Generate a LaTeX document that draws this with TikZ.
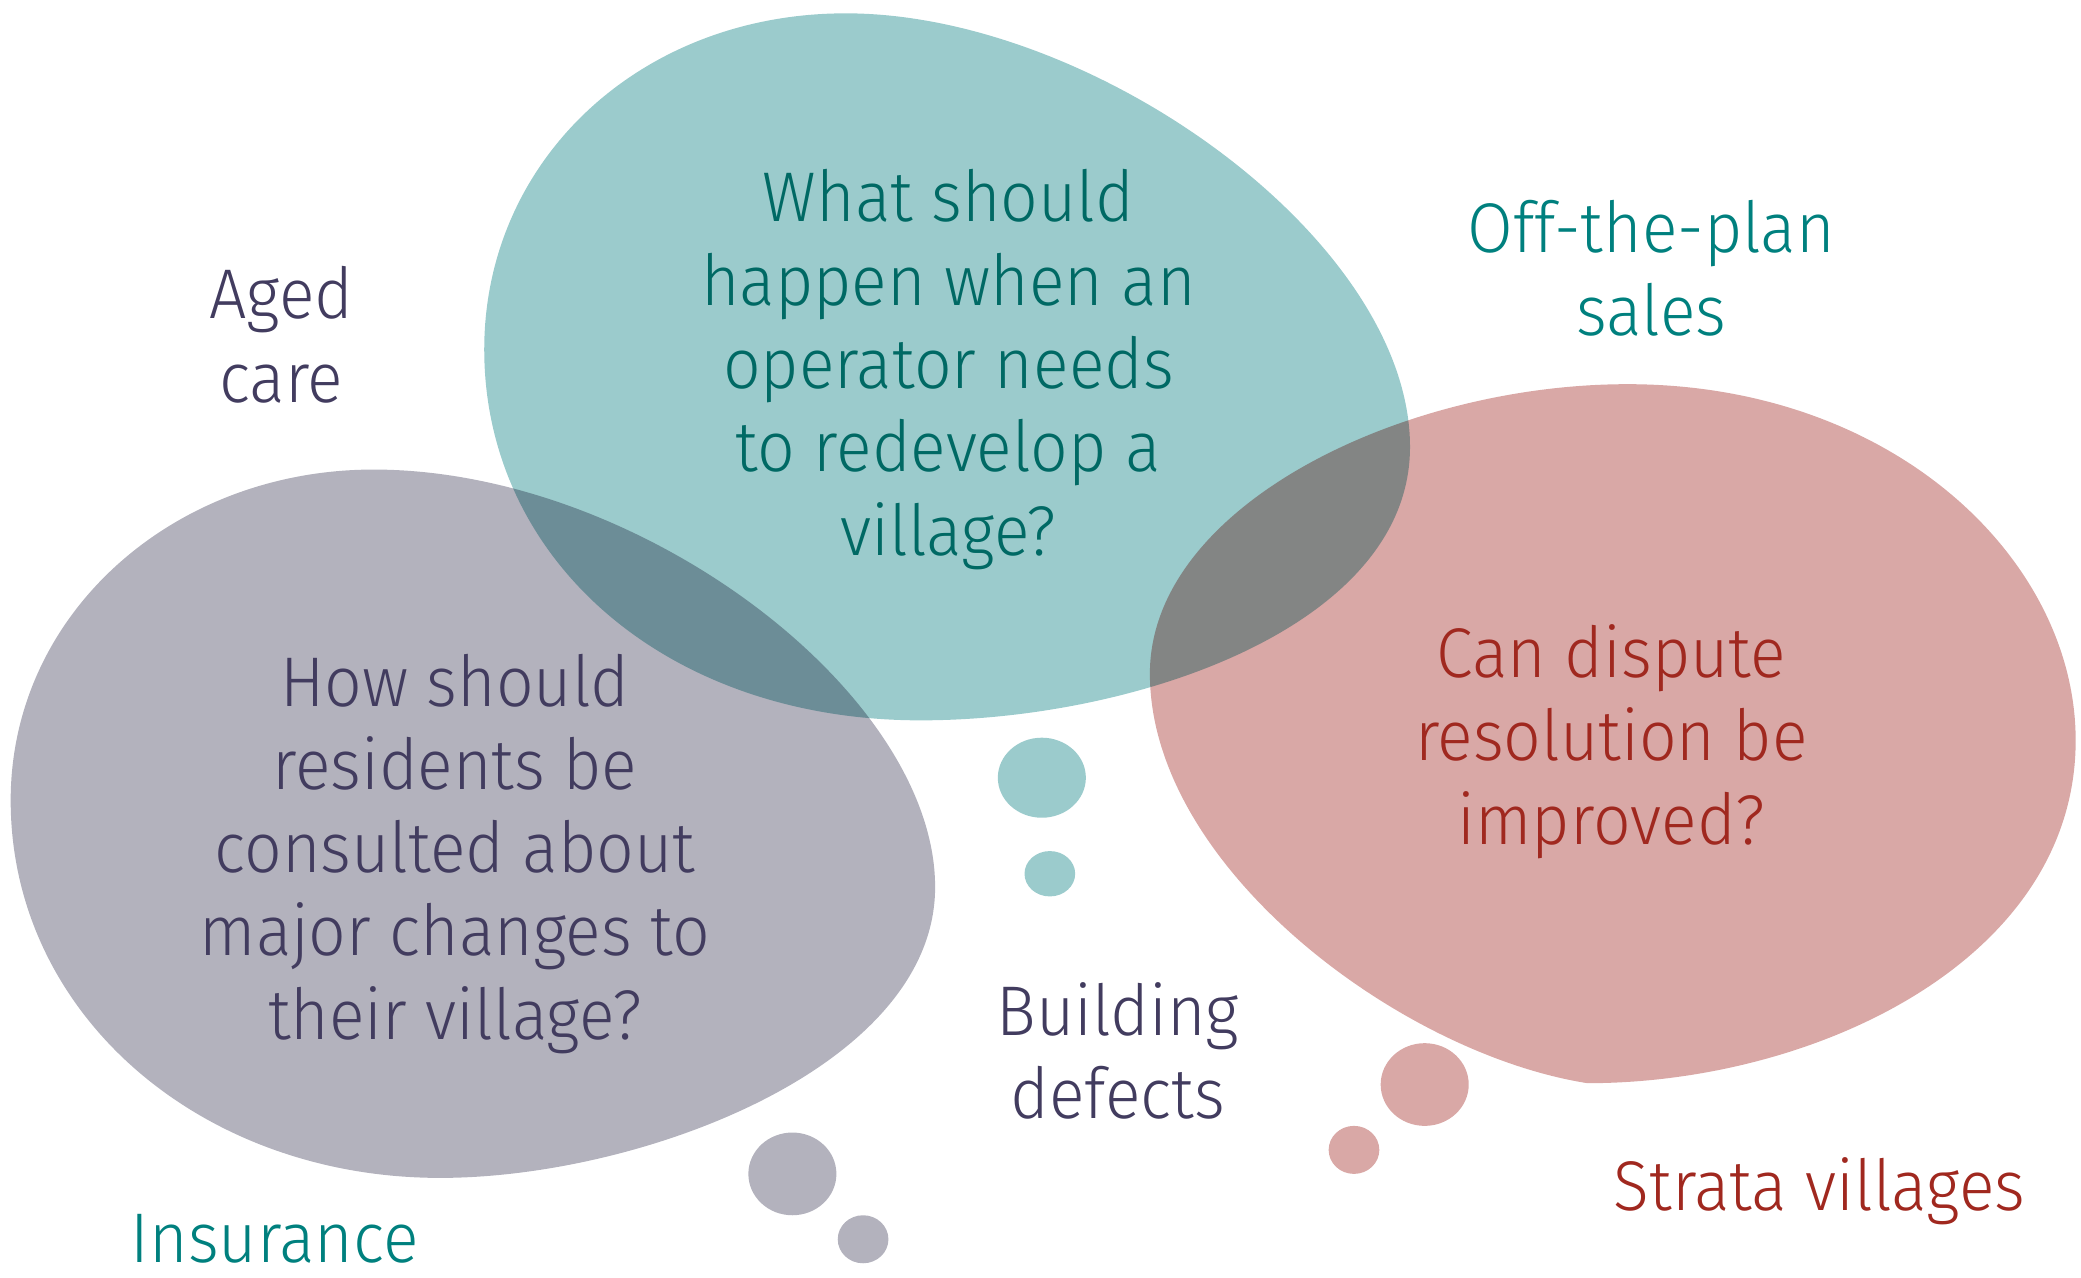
\documentclass[tikz,border=0pt]{standalone}
\usepackage{fontspec}
\setmainfont{Fira Sans}[UprightFont=* Light, FakeStretch=0.94]
\definecolor{tealfill}{RGB}{155,203,204}
\definecolor{greyfill}{RGB}{179,178,189}
\definecolor{pinkfill}{RGB}{217,168,166}
\definecolor{tealtext}{RGB}{0,105,100}
\definecolor{teallight}{RGB}{0,128,126}
\definecolor{greytext}{RGB}{66,60,95}
\definecolor{redtext}{RGB}{160,40,31}
\tikzset{
  lbl/.style={align=center, inner sep=0pt, font=\fontsize{25}{29.6}\selectfont},
}
\begin{document}
\begin{tikzpicture}[x=0.0166667cm,y=-0.0166667cm]
\useasboundingbox (0,0) rectangle (1560,958);
\begin{scope}[blend group=multiply]
\fill[tealfill] (634,10) .. controls (820,10) and (1057,180) .. (1057,335)
  .. controls (1057,470) and (850,540) .. (690,540)
  .. controls (500,540) and (363,420) .. (363,262)
  .. controls (363,120) and (480,10) .. (634,10) -- cycle;
\fill[greyfill] (280,352) .. controls (480,352) and (701,520) .. (701,665)
  .. controls (701,800) and (480,883) .. (330,883)
  .. controls (150,883) and (8,760) .. (8,600)
  .. controls (8,460) and (130,352) .. (280,352) -- cycle;
\fill[pinkfill] (1220,288) .. controls (1420,288) and (1556,420) .. (1556,555)
  .. controls (1556,720) and (1360,812) .. (1190,812)
  .. controls (1050,790) and (862,650) .. (862,505)
  .. controls (862,380) and (1050,288) .. (1220,288) -- cycle;
\end{scope}
\fill[tealfill] (781,583) ellipse [x radius=33, y radius=30];
\fill[tealfill] (787,655) ellipse [x radius=19, y radius=17];
\fill[greyfill] (594,880) ellipse [x radius=33, y radius=31];
\fill[greyfill] (647,929) ellipse [x radius=19, y radius=18];
\fill[pinkfill] (1068,813) ellipse [x radius=33, y radius=31];
\fill[pinkfill] (1015,862) ellipse [x radius=19, y radius=18];

\node[lbl, text=tealtext] (q1) at (711,277) {What should\\happen when an\\operator needs\\to redevelop a\\village?};
\node[lbl, text=greytext] (q2) at (341,640) {How should\\residents be\\consulted about\\major changes to\\their village?};
\node[lbl, text=redtext] (q3) at (1208,556) {Can dispute\\resolution be\\improved?};
\node[lbl, text=greytext] (aged) at (211,251) {Aged\\care};
\node[lbl, text=teallight] (otp) at (1238,201) {Off-the-plan\\sales};
\node[lbl, text=greytext] (bd) at (838,788) {Building\\defects};
\node[lbl, text=redtext] (sv) at (1364,893) {Strata villages};
\node[lbl, text=teallight] (ins) at (206,929) {Insurance};
\end{tikzpicture}
\end{document}
